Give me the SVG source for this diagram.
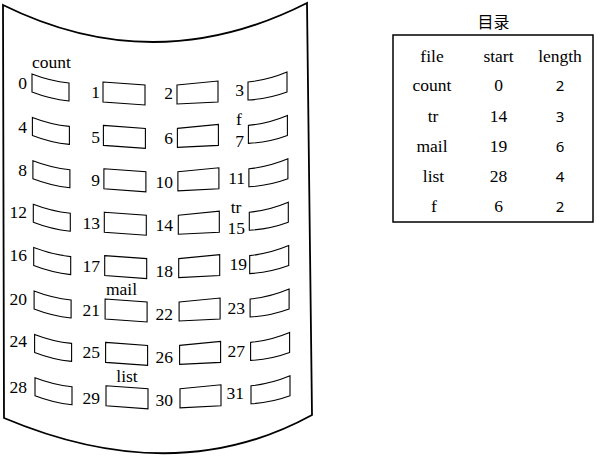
<svg xmlns="http://www.w3.org/2000/svg" xmlns:xlink="http://www.w3.org/1999/xlink" width="600" height="456" viewBox="0 0 600 456">
<style>
.disk{fill:#fff;stroke:#000;stroke-width:1.8}
.blk{fill:#fff;stroke:#000;stroke-width:1.1}
text{fill:#000}
.n{text-anchor:end}
.c{text-anchor:middle}
.tb{fill:#fff;stroke:#000;stroke-width:1.5}
</style>
<defs>
<path id="b0" d="M32,74 Q50,81 69,83 L69,101 Q50,99 32,92 Z"/>
<path id="b1" d="M103,82 L145,85 L145,105 L103,102 Z"/>
<path id="b2" d="M177,85 L218,81 L218,102 L177,104 Z"/>
<path id="b3" d="M248,82 Q268,80 287,72 L287,92 Q268,99 248,100 Z"/>
</defs>
<rect width="600" height="456" fill="#fff"/>
<g id="disk">
<path class="disk" d="M3,5 Q155,80 307,3 L312,415 Q175,490 4,418 Z"/>
</g>
<g id="connectors"/>
<g id="blocks" font-family="Liberation Serif, DejaVu Serif, serif" font-size="17.5">
<g id="blk0"><use href="#b0" class="blk"/><text class="n" x="27" y="89">0</text><text x="32" y="68">count</text></g>
<g id="blk1"><use href="#b1" class="blk"/><text class="n" x="100" y="98">1</text></g>
<g id="blk2"><use href="#b2" class="blk"/><text class="n" x="173" y="99">2</text></g>
<g id="blk3"><use href="#b3" class="blk"/><text class="n" x="244" y="96">3</text></g>

<g id="blk4"><use href="#b0" class="blk" transform="translate(0.4,43.4)"/><text class="n" x="27" y="133">4</text></g>
<g id="blk5"><use href="#b1" class="blk" transform="translate(0.4,43.4)"/><text class="n" x="100" y="143">5</text></g>
<g id="blk6"><use href="#b2" class="blk" transform="translate(0.4,43.4)"/><text class="n" x="173" y="144">6</text></g>
<g id="blk7"><use href="#b3" class="blk" transform="translate(0.4,43.4)"/><text class="n" x="244" y="147">7</text><text class="c" x="239" y="125">f</text></g>

<g id="blk8"><use href="#b0" class="blk" transform="translate(0.9,86.8)"/><text class="n" x="27" y="176">8</text></g>
<g id="blk9"><use href="#b1" class="blk" transform="translate(0.9,86.8)"/><text class="n" x="100" y="186">9</text></g>
<g id="blk10"><use href="#b2" class="blk" transform="translate(0.9,86.8)"/><text class="n" x="173" y="188">10</text></g>
<g id="blk11"><use href="#b3" class="blk" transform="translate(0.9,86.8)"/><text class="n" x="245" y="184">11</text></g>

<g id="blk12"><use href="#b0" class="blk" transform="translate(1.3,130.2)"/><text class="n" x="27" y="218">12</text></g>
<g id="blk13"><use href="#b1" class="blk" transform="translate(1.3,130.2)"/><text class="n" x="100" y="229">13</text></g>
<g id="blk14"><use href="#b2" class="blk" transform="translate(1.3,130.2)"/><text class="n" x="173" y="231">14</text></g>
<g id="blk15"><use href="#b3" class="blk" transform="translate(1.3,130.2)"/><text class="n" x="245" y="234">15</text><text class="c" x="236" y="213">tr</text></g>

<g id="blk16"><use href="#b0" class="blk" transform="translate(1.7,173.6)"/><text class="n" x="27" y="261">16</text></g>
<g id="blk17"><use href="#b1" class="blk" transform="translate(1.7,173.6)"/><text class="n" x="100" y="272">17</text></g>
<g id="blk18"><use href="#b2" class="blk" transform="translate(1.7,173.6)"/><text class="n" x="173" y="277">18</text></g>
<g id="blk19"><use href="#b3" class="blk" transform="translate(1.7,173.6)"/><text class="n" x="247" y="270">19</text></g>

<g id="blk20"><use href="#b0" class="blk" transform="translate(2.1,217)"/><text class="n" x="27" y="305">20</text></g>
<g id="blk21"><use href="#b1" class="blk" transform="translate(2.1,217)"/><text class="n" x="100" y="316">21</text><text class="c" x="121.5" y="295">mail</text></g>
<g id="blk22"><use href="#b2" class="blk" transform="translate(2.1,217)"/><text class="n" x="173" y="320">22</text></g>
<g id="blk23"><use href="#b3" class="blk" transform="translate(2.1,217)"/><text class="n" x="245" y="314">23</text></g>

<g id="blk24"><use href="#b0" class="blk" transform="translate(2.6,260.4)"/><text class="n" x="27" y="347">24</text></g>
<g id="blk25"><use href="#b1" class="blk" transform="translate(2.6,260.4)"/><text class="n" x="100" y="358">25</text></g>
<g id="blk26"><use href="#b2" class="blk" transform="translate(2.6,260.4)"/><text class="n" x="173" y="363">26</text></g>
<g id="blk27"><use href="#b3" class="blk" transform="translate(2.6,260.4)"/><text class="n" x="245" y="357">27</text></g>

<g id="blk28"><use href="#b0" class="blk" transform="translate(3,303.8)"/><text class="n" x="27" y="393">28</text></g>
<g id="blk29"><use href="#b1" class="blk" transform="translate(3,303.8)"/><text class="n" x="100" y="404">29</text><text class="c" x="127" y="382">list</text></g>
<g id="blk30"><use href="#b2" class="blk" transform="translate(3,303.8)"/><text class="n" x="173" y="406">30</text></g>
<g id="blk31"><use href="#b3" class="blk" transform="translate(3,303.8)"/><text class="n" x="244" y="399">31</text></g>
</g>
<g id="directory" font-family="Liberation Serif, DejaVu Serif, serif" font-size="17.5" text-anchor="middle">
<text x="493.5" y="28" font-family="Noto Sans CJK SC, Noto Sans CJK JP, sans-serif" font-size="16">目录</text>
<rect class="tb" x="393" y="35" width="200" height="187"/>
<text x="432" y="62">file</text>
<text x="498.5" y="62">start</text>
<text x="560" y="62">length</text>
<text x="432" y="91">count</text>
<text x="498.5" y="91">0</text>
<text x="433" y="122">tr</text>
<text x="498.5" y="122">14</text>
<text x="432" y="152">mail</text>
<text x="498.5" y="152">19</text>
<text x="433.5" y="182">list</text>
<text x="498.5" y="182">28</text>
<text x="434" y="212">f</text>
<text x="498.5" y="212">6</text>
<g font-family="Noto Sans, DejaVu Sans, sans-serif" font-size="15">
<text x="560" y="91">2</text>
<text x="560" y="122">3</text>
<text x="560" y="152">6</text>
<text x="560" y="182">4</text>
<text x="560" y="212">2</text>
</g>
</g>
</svg>
